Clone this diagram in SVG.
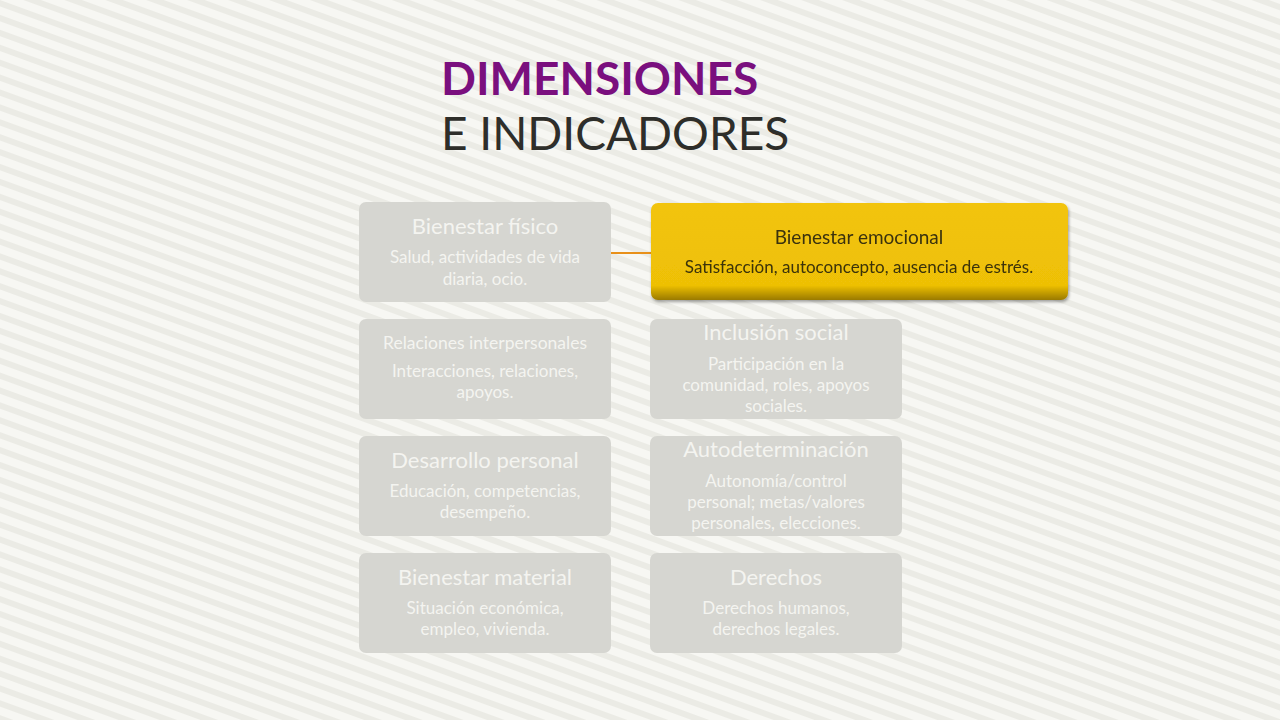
<svg xmlns="http://www.w3.org/2000/svg" width="1280" height="720" viewBox="0 0 1280 720">
<defs>
<pattern id="bg" width="14" height="14" patternUnits="userSpaceOnUse" patternTransform="rotate(20)">
<rect width="14" height="14" fill="#f7f7f3"/>
<rect width="14" height="6" fill="#ebebe5"/>
</pattern>
<linearGradient id="yg" x1="0" y1="0" x2="0" y2="1">
<stop offset="0" stop-color="#f2c40a"/><stop offset="0.85" stop-color="#eec006"/><stop offset="1" stop-color="#9a7a00"/>
</linearGradient>
<filter id="sh" x="-5%" y="-10%" width="110%" height="130%"><feDropShadow dx="1" dy="2" stdDeviation="1.5" flood-color="#000" flood-opacity="0.35"/></filter>
</defs>
<style>
.box{fill:#d6d6d1}
.t{font-family:Lato,"Open Sans",sans-serif;fill:#f4f4f0;text-anchor:middle}
.h{font-size:22px}
.s{font-size:17px}
</style>
<rect width="1280" height="720" fill="url(#bg)"/>
<text x="441" y="95" font-family="Lato,'Open Sans',sans-serif" font-size="46" font-weight="bold" fill="#7a0f7e">DIMENSIONES</text>
<text x="441" y="150" font-family="Lato,'Open Sans',sans-serif" font-size="46" fill="#2e2e2a">E INDICADORES</text>
<g id="connectors"><line x1="611" y1="253" x2="651" y2="253" stroke="#e8901a" stroke-width="2"/></g>
<g id="n1"><rect class="box" x="359" y="202" width="252" height="100" rx="7"/>
<text class="t h" x="485" y="234">Bienestar físico</text><text class="t s" x="485" y="263">Salud, actividades de vida</text><text class="t s" x="485" y="285">diaria, ocio.</text></g>
<g id="n2" filter="url(#sh)"><rect x="651" y="203" width="417" height="97" rx="7" fill="url(#yg)"/>
<text x="859" y="244" font-family="Lato,'Open Sans',sans-serif" font-size="19" text-anchor="middle" fill="#3a3208">Bienestar emocional</text>
<text x="859" y="273" font-family="Lato,'Open Sans',sans-serif" font-size="17" text-anchor="middle" fill="#3a3208">Satisfacción, autoconcepto, ausencia de estrés.</text></g>
<g id="n3"><rect class="box" x="359" y="319" width="252" height="100" rx="7"/>
<text class="t" font-size="17.5" x="485" y="349">Relaciones interpersonales</text><text class="t s" x="485" y="377">Interacciones, relaciones,</text><text class="t s" x="485" y="398">apoyos.</text></g>
<g id="n4"><rect class="box" x="650" y="319" width="252" height="100" rx="7"/>
<text class="t h" x="776" y="340">Inclusión social</text><text class="t s" x="776" y="370">Participación en la</text><text class="t s" x="776" y="391">comunidad, roles, apoyos</text><text class="t s" x="776" y="412">sociales.</text></g>
<g id="n5"><rect class="box" x="359" y="436" width="252" height="100" rx="7"/>
<text class="t h" x="485" y="468">Desarrollo personal</text><text class="t s" x="485" y="497">Educación, competencias,</text><text class="t s" x="485" y="518">desempeño.</text></g>
<g id="n6"><rect class="box" x="650" y="436" width="252" height="100" rx="7"/>
<text class="t h" x="776" y="457">Autodeterminación</text><text class="t s" x="776" y="487">Autonomía/control</text><text class="t s" x="776" y="508">personal; metas/valores</text><text class="t s" x="776" y="529">personales, elecciones.</text></g>
<g id="n7"><rect class="box" x="359" y="553" width="252" height="100" rx="7"/>
<text class="t h" x="485" y="585">Bienestar material</text><text class="t s" x="485" y="614">Situación económica,</text><text class="t s" x="485" y="635">empleo, vivienda.</text></g>
<g id="n8"><rect class="box" x="650" y="553" width="252" height="100" rx="7"/>
<text class="t h" x="776" y="585">Derechos</text><text class="t s" x="776" y="614">Derechos humanos,</text><text class="t s" x="776" y="635">derechos legales.</text></g>
</svg>
